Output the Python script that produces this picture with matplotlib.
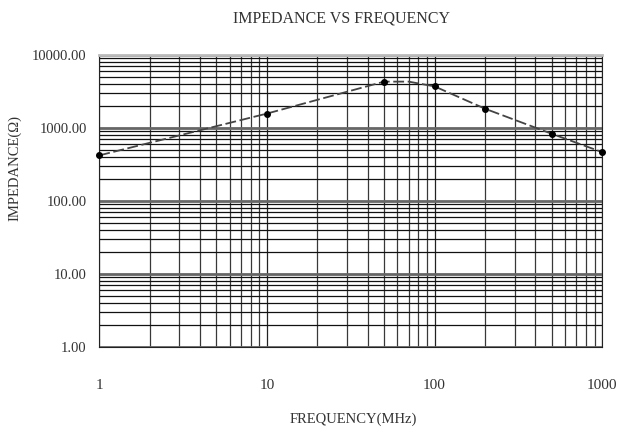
"""Impedance vs frequency chart (ferrite bead style log-log plot)."""

import matplotlib

matplotlib.use("Agg")
import matplotlib.pyplot as plt
from matplotlib.ticker import FixedLocator, FuncFormatter, LogLocator, NullFormatter

FREQUENCY_MHZ = [1, 10, 50, 70, 100, 200, 500, 1000]
IMPEDANCE_OHM = [420, 1570, 4300, 4300, 3700, 1830, 830, 465]
MARKED = [0, 1, 2, 4, 5, 6, 7]

X_TICKS = [1, 10, 100, 1000]
Y_TICKS = [1, 10, 100, 1000, 10000]

plt.rcParams["font.family"] = ["Liberation Serif", "DejaVu Serif"]

fig = plt.figure(figsize=(6.17, 4.32), dpi=100)
axis = fig.add_axes([0.161, 0.197, 0.815, 0.676])

axis.set_xscale("log")
axis.set_yscale("log")
axis.set_xlim(1, 1000)
axis.set_ylim(1, 10000)

axis.xaxis.set_major_locator(FixedLocator(X_TICKS))
axis.yaxis.set_major_locator(FixedLocator(Y_TICKS))
axis.xaxis.set_minor_locator(LogLocator(base=10, subs=range(2, 10)))
axis.yaxis.set_minor_locator(LogLocator(base=10, subs=range(2, 10)))
axis.xaxis.set_minor_formatter(NullFormatter())
axis.yaxis.set_minor_formatter(NullFormatter())
axis.xaxis.set_major_formatter(FuncFormatter(lambda v, _: f"{v:.0f}"))
axis.yaxis.set_major_formatter(FuncFormatter(lambda v, _: f"{v:.2f}"))

axis.grid(which="major", axis="x", color="#222222", linewidth=0.9)
axis.grid(which="minor", axis="x", color="#383838", linewidth=0.9)
axis.grid(which="major", axis="y", color="#666666", linewidth=2.0)
axis.grid(which="minor", axis="y", color="#111111", linewidth=0.9)
axis.set_axisbelow(True)

axis.tick_params(which="both", length=0)
axis.tick_params(axis="x", pad=23, labelsize=11, colors="#333333")
axis.tick_params(axis="y", pad=9, labelsize=10.5, colors="#333333")

for name, spine in axis.spines.items():
    spine.set_color("#222222")
    spine.set_linewidth(0.8)
axis.spines["top"].set_color("#bbbbbb")
axis.spines["top"].set_linewidth(2.0)

axis.plot(
    FREQUENCY_MHZ,
    IMPEDANCE_OHM,
    linestyle=(0, (6, 2)),
    color="#444444",
    linewidth=1.3,
    marker="o",
    markersize=4,
    markerfacecolor="black",
    markeredgecolor="black",
    markevery=MARKED,
    clip_on=False,
    zorder=5,
)

fig.text(0.553, 0.958, "IMPEDANCE VS FREQUENCY", fontsize=11.5,
         ha="center", va="center", color="#333333")
axis.set_xlabel("FREQUENCY(MHz)", fontsize=10.5, color="#333333")
axis.set_ylabel("IMPEDANCE(Ω)", fontsize=10.5, color="#333333")
axis.xaxis.set_label_coords(0.505, -0.226)
axis.yaxis.set_label_coords(-0.155, 0.613)

fig.savefig("out.png", dpi=100)
